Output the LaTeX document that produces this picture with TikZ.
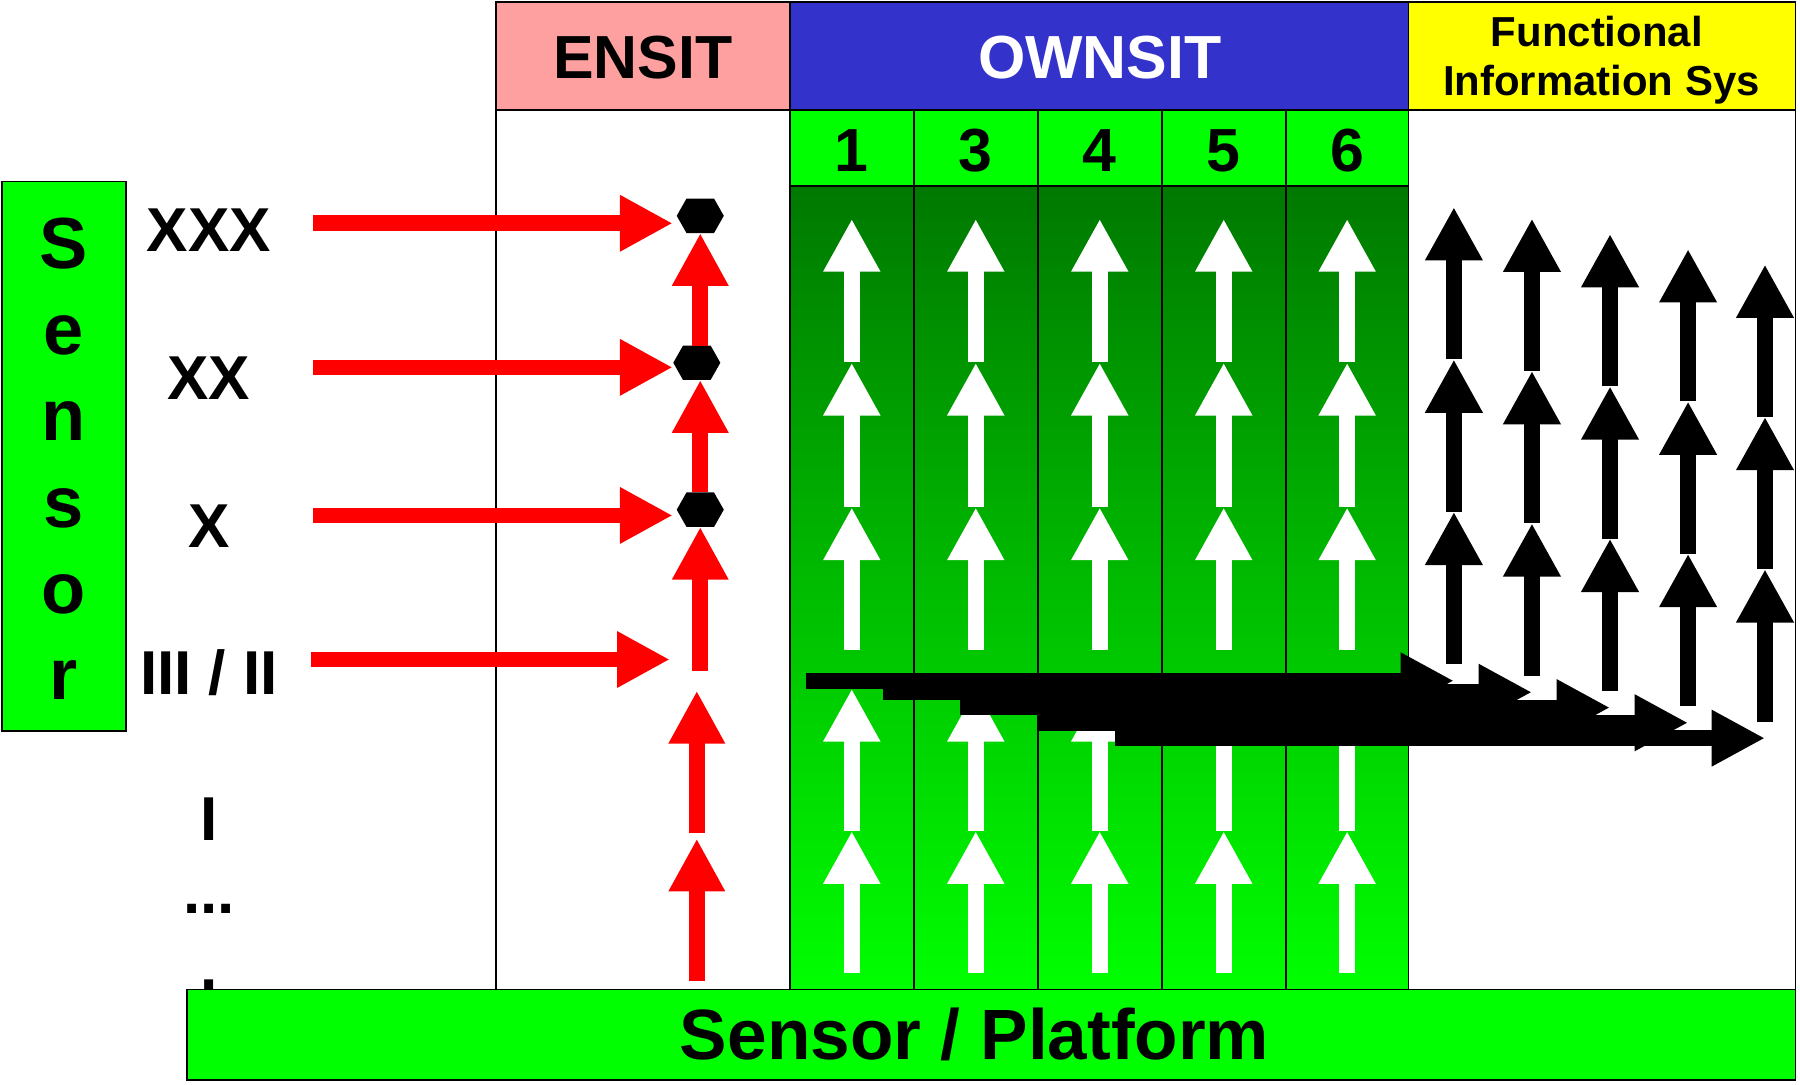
\documentclass[tikz,border=0pt]{standalone}
\usepackage{fontspec}
\setmainfont{Liberation Sans}
\usetikzlibrary{arrows.meta}

\definecolor{ensitpink}{RGB}{255,160,160}
\definecolor{ownblue}{RGB}{51,51,204}
\definecolor{limegreen}{RGB}{0,255,0}
\definecolor{deepgreen}{RGB}{0,120,0}
\definecolor{fisyellow}{RGB}{255,255,0}

% black flat-topped hexagon filling a named node
\newcommand\hexfill[1]{%
  \fill[black] (#1.west) -- ([xshift=8.5pt]#1.north west) -- ([xshift=-8.5pt]#1.north east)
    -- (#1.east) -- ([xshift=-8.5pt]#1.south east) -- ([xshift=8.5pt]#1.south west) -- cycle;}

\begin{document}
\begin{tikzpicture}[x=1pt,y=-1pt,
  frame/.style={draw=black,line width=1.5pt},
  boldtxt/.style={inner sep=0pt,anchor=base,font=\bfseries\fontsize{#1}{#1}\selectfont},
  hexa/.style={minimum width=41pt,minimum height=30pt,inner sep=0pt,outer sep=0pt},
  redarr/.style={draw=red,line width=13.6pt,-{Triangle[length=46pt,width=46pt]}},
  whitearr/.style={draw=white,line width=13.6pt,-{Triangle[length=46pt,width=46.5pt]}},
  vblackarr/.style={draw=black,line width=13.4pt,-{Triangle[length=46.5pt,width=47pt]}},
  hblackarr/.style={draw=black,line width=13.6pt,-{Triangle[length=46.5pt,width=46pt]}},
]
% canvas
\fill[white] (0,0) rectangle (1568,945);
\useasboundingbox (0,0) rectangle (1568,945);

% header cells
\fill[ensitpink] (432,2) rectangle (688,96);
\fill[ownblue] (688,2) rectangle (1227,96);
\fill[fisyellow] (1227,2) rectangle (1564,96);
% OWNSIT sub-columns
\fill[limegreen] (688,96) rectangle (1227,162);
\shade[top color=deepgreen,bottom color=limegreen] (688,162) rectangle (1227,862);

% table rules
\draw[frame] (432,2) rectangle (1564,862);
\draw[frame] (432,96) -- (1564,96);
\draw[frame] (688,2) -- (688,862);
\draw[frame] (1227,2) -- (1227,862);
\draw[frame] (688,162) -- (1227,162);
\foreach \x in {796,904,1012,1120} \draw[frame] (\x,96) -- (\x,862);

% header texts
\node[boldtxt=53] (ensit) at (560,68.5) {ENSIT};
\node[boldtxt=53,text=white] (ownsit) at (958,68.5) {OWNSIT};
\node[boldtxt=36.5] (fis1) at (1391,40.5) {Functional};
\node[boldtxt=36.5] (fis2) at (1395,83) {Information Sys};
\foreach \x/\n in {742/1,850/3,958/4,1066/5,1173.5/6}
  \node[boldtxt=53] (col\n) at (\x,149.3) {\n};

% sensor column
\draw[frame,fill=limegreen] (2,158) rectangle (110,637);
\foreach \ch [count=\i from 0] in {S,e,n,s,o,r}
  \node[boldtxt=63] (sl\i) at (55,233.6+75.2*\i) {\ch};

% level labels
\node[boldtxt=54] (lxxx) at (182,218.7) {XXX};
\node[boldtxt=54] (lxx) at (182,347.8) {XX};
\node[boldtxt=54] (lx) at (182,477) {X};
\node[boldtxt=54] (liii) at (182,604.7) {III / II};
\node[boldtxt=54] (li) at (182,732.3) {I};
\node[boldtxt=54] (ldots) at (182,796) {...};
\node[boldtxt=54] (llow) at (182,890.7) {I};

% platform bar
\draw[frame,fill=limegreen] (163,862) rectangle (1564,941);
\node[boldtxt=62] (platform) at (849,923.3) {Sensor / Platform};

% ENSIT fusion points
\node[hexa] (h1) at (610,188) {};
\node[hexa] (h2) at (607,316) {};
\node[hexa] (h3) at (610,444) {};
\hexfill{h1}\hexfill{h2}\hexfill{h3}

% sensor level inputs
\coordinate (r1s) at (273,194.5);  \coordinate (r1e) at (586,194.5);
\coordinate (r2s) at (273,320);    \coordinate (r2e) at (586,320);
\coordinate (r3s) at (273,449);    \coordinate (r3e) at (586,449);
\coordinate (r4s) at (271,574.5);  \coordinate (r4e) at (583.5,574.5);
\draw[redarr] (r1s) -- (r1e);
\draw[redarr] (r2s) -- (r2e);
\draw[redarr] (r3s) -- (r3e);
\draw[redarr] (r4s) -- (r4e);

% ENSIT upward chain
\draw[redarr] (h2.north -| h1.south) -- (h1.south);
\draw[redarr] (h3.north) -- (h2.south -| h3.north);
\coordinate (r5s) at (610,584.5);
\draw[redarr] (r5s) -- (h3.south);
\coordinate (r6s) at (607,726);   \coordinate (r6e) at (607,601.7);
\coordinate (r7s) at (607,854.7); \coordinate (r7e) at (607,730.5);
\draw[redarr] (r6s) -- (r6e);
\draw[redarr] (r7s) -- (r7e);

% OWNSIT upward flows
\foreach \x in {742,850,958,1066,1173.5}
  \foreach \t/\b in {190.7/315.4,316/441.6,442/566,600/724,724/848}
    \draw[whitearr] (\x,\b) -- (\x,\t);

% functional information flows
\foreach \x/\hc in {1266.5/593,1334.5/603,1402.5/616.4,1470.5/629.6,1537.5/643}
  \foreach \k in {0,1,2}
    \draw[vblackarr] (\x,\hc-14.5-132.7*\k) -- (\x,\hc-14.5-132.7*\k-132.7);

% OWNSIT to functional systems
\foreach \s/\x/\hc in {702/1266.5/593,769/1334.5/603,836/1402.5/616.4,903/1470.5/629.6,971/1537.5/643}
  \draw[hblackarr] (\s,\hc) -- (\x,\hc);
\end{tikzpicture}
\end{document}
